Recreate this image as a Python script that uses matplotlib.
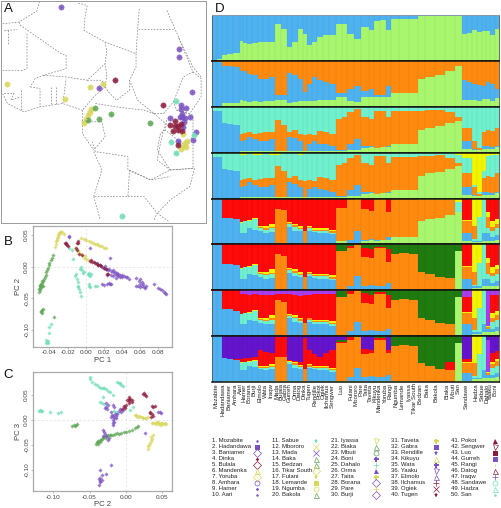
import numpy as np
import matplotlib
matplotlib.use("Agg")
import matplotlib.pyplot as plt

plt.rcParams['font.family'] = ['Liberation Sans', 'DejaVu Sans']
W, H = 501, 508
PURPLE, YELLOW, DRED, GREEN, AQUA = '#7B52C1', '#D8D75C', '#8C1C3C', '#5FA655', '#6FDDB8'
C_BLUE, C_LG, C_OR, C_AQ, C_RED, C_YE, C_DG, C_MA, C_PU = ('#4FB2F0', '#A8F56E', '#FF8A10', '#70F0CC',
    '#FF0A0A', '#F2F500', '#1F7A10', '#A83CEE', '#6414CC')

# ---------- map (panel A), image-style map units ----------
map_purple = [(185,21),(546,147),(546,169),(586,276),(301,263),(552,314),(553,325),(570,323),(518,355),(555,342),
              (550,352),(565,355),(582,352),(562,365),(560,380),(598,395),(589,420),(543,424),(556,350)]
map_yellow = [(18,250),(196,295),(272,261),(314,252),(278,325),(272,335),(267,345),(262,358),(256,370),(560,401),
              (572,423),(566,430),(562,438),(552,446),(568,442)]
map_dred = [(349,238),(497,315),(535,362),(552,373),(518,376),(535,378),(545,378),(529,392),(545,390),(555,392),(543,435)]
map_green = [(290,324),(338,341),(300,358),(267,360),(458,369)]
map_aqua = [(539,301),(594,405),(521,427),(538,458),(371,649)]
borders = [
 [(5,70),(55,65),(110,32),(118,5)],
 [(55,65),(60,75),(185,160),(200,165),(200,205),(130,225),(105,235),(90,260)],
 [(10,90),(50,88)],[(20,90),(20,130)],
 [(80,100),(80,205),(65,210),(5,210)],
 [(238,8),(265,15),(258,50),(255,90),(320,125),(415,160)],
 [(320,125),(325,150),(320,190),(265,240),(200,230),(130,225)],
 [(425,25),(420,85),(415,160)],[(420,85),(530,85)],
 [(415,160),(415,200),(395,240),(395,270),(355,300),(330,275),(320,260),(325,225),(320,190)],
 [(395,240),(420,300),(470,340),(500,340),(530,305),(560,230),(590,215),(545,110)],
 [(510,30),(550,120),(590,200),(615,230)],
 [(590,215),(615,235),(615,290),(580,340),(540,330),(530,305)],
 [(540,330),(590,345),(590,405),(570,440),(505,390),(510,355)],
 [(505,390),(490,400),(480,450),(520,510),(590,505),(590,430)],
 [(470,340),(505,370),(490,430),(480,480),(520,510),(460,540),(390,510),(390,470),(360,465),(290,455),(280,425)],
 [(285,455),(310,510),(285,590),(390,590),(395,510)],
 [(285,590),(305,660)],[(390,590),(440,590),(480,640),(470,660)],
 [(395,510),(460,540),(520,530)],
 [(520,510),(595,505),(580,560),(520,600),(480,640),(515,665)],
 [(190,310),(200,235)],[(265,240),(310,240),(320,260),(290,285),(250,330)],
 [(90,260),(120,265),(120,320)],[(155,260),(155,310)],[(170,260),(170,310)],[(60,270),(60,330)],
 [(10,280),(40,280),(30,300),(60,290)],
 [(5,280),(20,310),(70,335),(120,320),(190,310),(250,330)],
 [(250,330),(250,400),(285,450)],[(250,365),(310,365),(320,410),(285,450)],
 [(290,310),(355,320),(395,325),(440,330),(470,340)],
]

# ---------- PCA B (PC1, PC2) ----------
b_yellow = [(-0.034,0.031),(-0.033,0.04),(-0.033,0.035),(-0.032,0.042),(-0.032,0.045),(-0.031,0.05),(-0.031,0.047),(-0.030,0.053),
 (-0.029,0.051),(-0.028,0.055),(-0.027,0.054),(-0.026,0.054),(-0.024,0.052),(-0.005,0.045),(-0.002,0.043),(0,0.042),(0.004,0.04),
 (0.006,0.039),(0.008,0.038),(0.010,0.036),(0.012,0.036),(0.014,0.034),(0.016,0.033),(0.018,0.032),(0.02,0.03),(0.022,0.029),
 (-0.012,0.029),(-0.010,0.026),(-0.009,0.024),(-0.007,0.022),(-0.005,0.02),(-0.004,0.018),(-0.002,0.014),(-0.001,0.016),(0,0.012),(0.002,0.01)]
b_dred = [(-0.023,0.037),(-0.022,0.035),(-0.022,0.038),(-0.021,0.034),(-0.020,0.033),(-0.009,0.04),(-0.01,0.038),(-0.009,0.037),
 (-0.011,0.029),(-0.01,0.027),(0.005,0.009),(0.006,0.01),(0.007,0.008),(0.009,0.007),(0.01,0.006),(0.012,0.004),(0.014,0.003),
 (0.016,0.002),(0.017,0.001),(0.02,-0.002),(0.024,-0.011),(0.025,-0.012),(-0.004,0.018),(-0.007,0.02),(0.022,-0.003)]
b_purple = [(0.012,0.005),(0.014,0.003),(0.016,0.002),(0.018,0.0),(0.02,-0.002),(0.021,0.001),(0.022,-0.004),(0.024,-0.003),
 (0.025,-0.006),(0.026,-0.004),(0.028,-0.007),(0.03,-0.009),(0.03,-0.006),(0.032,-0.008),(0.032,-0.011),(0.034,-0.01),(0.034,-0.014),
 (0.036,-0.012),(0.036,-0.015),(0.038,-0.013),(0.038,-0.017),(0.04,-0.014),(0.04,-0.016),(0.042,-0.015),(0.044,-0.016),(0.046,-0.017),
 (0.024,-0.013),(0.028,-0.013),(0.03,-0.015),(0.033,-0.018),(0.056,-0.03),(0.058,-0.03),(0.06,-0.028),(0.06,-0.032),(0.062,-0.03),
 (0.063,-0.028),(0.064,-0.032),(0.066,-0.03),(0.06,-0.02),(0.059,-0.022),(0.062,-0.024),(0.055,-0.018),(0.065,-0.034),(0.075,-0.028),
 (0.08,-0.034),(0.082,-0.036),(0.084,-0.037),(0.086,-0.04),(0.088,-0.041),(0.089,-0.043),(0.018,-0.028),(0.02,-0.029),(0.024,-0.027),
 (0.026,-0.026),(0.027,-0.028),(0.028,-0.027),(-0.019,0.049),(-0.018,0.047),(0.005,0.03),(0.027,0.013),(0.048,-0.02)]
b_green = [(-0.036,0.018),(-0.037,0.014),(-0.038,0.01),(-0.04,0.006),(-0.041,0.002),(-0.042,-0.002),(-0.043,-0.005),(-0.044,-0.009),
 (-0.044,-0.013),(-0.045,-0.016),(-0.046,-0.02),(-0.047,-0.023),(-0.048,-0.026),(-0.048,-0.03),(-0.049,-0.027),(-0.049,-0.032),
 (-0.05,-0.029),(-0.05,-0.034),(-0.051,-0.031),(-0.051,-0.037),(-0.052,-0.035),(-0.052,-0.04),(-0.047,-0.03),(-0.048,-0.023),
 (-0.048,-0.069),(-0.049,-0.072),(-0.048,-0.073),(-0.047,-0.067),(-0.049,-0.07),(-0.035,-0.08)]
b_aqua = [(-0.042,-0.117),(-0.043,-0.119),(-0.044,-0.116),(-0.042,-0.12),(-0.044,-0.121),(-0.04,-0.105),(-0.04,-0.095),(-0.038,-0.09),
 (-0.005,0.0),(-0.004,-0.005),(-0.006,-0.004),(-0.003,-0.01),(-0.002,-0.008),(0.003,-0.012),(0.004,-0.014),(0.005,-0.015),(0.004,-0.01),
 (0.006,-0.011),(-0.011,-0.012),(-0.012,-0.015),(-0.010,-0.02),(-0.009,-0.025),(-0.008,-0.03),(-0.009,-0.033),(-0.007,-0.035),(-0.006,-0.04),
 (-0.005,-0.047),(0.004,-0.03),(0.005,-0.033),(0.004,-0.027),(0.01,-0.03),(0.012,-0.03),(-0.018,0.03),(-0.015,0.026),(-0.014,0.012)]

# ---------- PCA C (PC2, PC3) ----------
c_aqua = [(-0.12,0.018),(-0.118,0.019),(-0.117,0.017),(-0.115,0.018),(-0.105,0.015),(-0.093,0.013),(-0.09,0.015),(-0.05,0.085),(-0.05,0.082),
 (-0.046,0.075),(-0.042,0.072),(-0.04,0.07),(-0.037,0.066),(-0.034,0.064),(-0.032,0.063),(-0.03,0.064),(-0.028,0.061),(-0.025,0.058),
 (-0.022,0.055),(-0.018,0.05),(-0.012,0.075),(-0.01,0.073),(-0.008,0.073),(-0.006,0.07),(-0.004,0.068),(-0.036,0.035),(-0.033,0.033),
 (-0.03,0.032),(-0.032,0.045),(-0.016,0.018),(-0.014,0.016),(-0.012,0.014),(0.006,0.02),(0.01,0.025)]
c_green = [(-0.074,-0.012),(-0.072,-0.011),(-0.07,-0.012),(-0.069,-0.01),(-0.067,-0.008),(-0.041,-0.048),(-0.04,-0.045),(-0.039,-0.049),(-0.038,-0.045),
 (-0.038,-0.042),(-0.036,-0.044),(-0.036,-0.04),(-0.034,-0.041),(-0.033,-0.038),(-0.031,-0.037),(-0.03,-0.034),(-0.028,-0.036),(-0.026,-0.032),
 (-0.024,-0.03),(-0.022,-0.03),(-0.02,-0.03),(-0.018,-0.03),(-0.015,-0.028),(-0.012,-0.027),(-0.01,-0.028),(-0.006,-0.026),(-0.003,-0.025),
 (0,-0.025),(0.004,-0.022),(0.008,-0.02),(0.012,-0.017),(0.015,-0.015),(0.017,-0.013)]
c_purple = [(-0.02,0.005),(-0.018,0.0),(-0.019,0.01),(-0.017,0.007),(-0.016,0.003),(-0.015,0.012),(-0.016,-0.004),(-0.018,-0.006),(-0.014,0.008),
 (-0.013,0.004),(-0.017,-0.01),(-0.012,0.012),(-0.01,0.018),(-0.008,0.022),(-0.006,0.015),(-0.004,0.02),(-0.002,0.025),(-0.02,0.015),(-0.018,0.03),
 (-0.016,0.026),(-0.03,-0.024),(-0.029,-0.028),(-0.031,-0.032),(-0.028,-0.032),(-0.032,-0.02),(-0.025,-0.04),(-0.023,-0.037),(-0.037,-0.118),
 (-0.036,-0.122),(-0.035,-0.125),(-0.037,-0.13),(-0.035,-0.116),(-0.033,-0.12),(-0.036,-0.1),(-0.028,-0.108),(-0.033,-0.11),(-0.02,-0.09),
 (0.045,0.016),(0.047,0.015),(0.049,0.014),(-0.027,0.025),(-0.028,0.033),(-0.029,0.023),(-0.025,0.03),(-0.026,0.022),(0.027,-0.027)]
c_dred = [(0.002,0.04),(0.004,0.042),(0.005,0.038),(0.006,0.041),(0.008,0.04),(0.005,0.045),(0.009,0.036),(0.004,0.034),(0.025,0.053),(0.027,0.05),
 (0.028,0.048),(0.024,0.052),(0.036,0.028),(0.038,0.025),(0.04,0.027),(0.034,0.013),(0.036,0.011),(0.037,0.008),(0.033,0.016),(0.035,0.006),
 (-0.002,0.027),(-0.001,0.024),(0.0,0.03),(-0.005,0.022)]
c_yellow = [(0.036,-0.007),(0.038,-0.006),(0.04,-0.007),(0.042,-0.008),(0.044,-0.006),(0.045,-0.005),(0.046,-0.009),(0.048,-0.007),(0.05,-0.006),
 (0.052,-0.008),(0.054,-0.006),(0.055,-0.009),(0.043,-0.004),(0.049,-0.01),(0.03,-0.058),(0.03,-0.053),(0.032,-0.05),(0.033,-0.046),(0.035,-0.042),
 (0.036,-0.038),(0.037,-0.03),(0.035,-0.035),(0.012,0.009),(0.014,0.01),(0.016,0.006),(0.018,0.008),(0.02,0.006),(0.022,0.005),(0.024,0.004),
 (0.026,0.004),(0.028,0.003),(0.03,0.005)]

# ---------- structure bars (panel D): 48 population blocks, boundaries in % ----------
edges = [20,35,50,65,85,105,115,125,140,158,175,192,210,228,245,262,278,292,305,320,335,352,372,392,410,425,445,467,490,507,525,543,
         557,580,610,637,660,690,720,750,770,785,800,815,830,843,855,868,882]
p1_green = [0,5,13,16,18,44,40,38,40,42, 42,42,81,71,31,42,71,60,35,42, 53,57,57,82,82,60,49,75,68,88, 90,68,93,93,93,99,99,99,99,99, 60,62,68,64,66,66,57,71]

p2_green = [1,3,8,8,8,15,12,10,12,10, 12,12,15,15,8,10,12,12,12,12, 15,15,15,22,22,12,10,22,22,22, 22,22,30,30,30,60,65,70,78,90, 15,15,15,12,18,18,12,20]
p2_blue = [99,99,90,90,88,78,78,72,70,60, 62,65,25,25,75,70,60,32,50,65, 58,55,50,30,30,38,45,35,38,25, 25,45,30,30,30,60,65,70,78,90, 58,55,50,48,45,55,50,40]

p3_green = [0,0,1,1,1,3,3,3,3,3, 3,3,3,3,3,3,3,3,3,3, 3,3,3,3,3,5,5,10,12,10, 12,12,18,18,18,50,55,58,65,70, 8,8,5,5,8,8,8,12]
p3_blue = [90,90,65,62,60,25,28,35,30,25, 25,30,4,4,35,32,25,3,20,25, 20,18,15,5,5,18,30,15,15,10, 12,15,18,18,18,50,55,58,65,70, 25,25,8,6,15,15,12,14]
p3_orange = [90,90,65,62,60,40,42,45,40,42, 45,45,72,60,45,50,40,38,40,38, 48,45,40,74,78,88,96,78,74,92, 92,78,90,90,90,92,93,94,88,78, 55,55,25,10,45,50,48,55]
p4_aqua = [100,100,100,100,100,95,96,100,95,95, 100,95,95,100,100,100,96,100,100,100, 100,100,100,100,100,100,100,100,100,100, 100,100,100,100,100,100,100,100,100,95, 88,88,30,15,60,92,95,95]

p5_green = [0,0,1,1,1,2,2,2,2,2, 2,2,2,2,2,2,2,2,2,2, 2,2,2,8,8,3,3,8,10,8, 10,10,15,15,15,50,55,58,65,70, 8,8,5,5,8,8,8,10]
p5_blue = [99,99,58,58,55,25,25,35,32,28, 25,27,2,2,38,30,28,2,30,27, 25,25,22,8,8,10,30,10,12,10, 10,15,15,15,15,50,55,58,65,70, 25,25,8,8,25,25,15,20]
p5_aqua = [99,99,58,58,55,47,50,50,55,35, 32,35,2,2,44,38,33,2,35,30, 30,30,25,8,8,10,30,10,12,10, 10,15,15,15,15,50,55,58,65,92, 25,25,12,60,100,35,30,35]
p5_orange = [99,99,58,58,55,47,50,50,55,37, 35,38,78,75,46,42,36,28,38,32, 32,32,28,80,80,98,96,78,72,98, 98,70,98,98,98,97,97,97,97,92, 50,50,40,60,100,60,38,45]
p5_yellow = [99,99,58,58,55,48,50,52,57,40, 40,45,78,75,48,45,40,28,40,35, 35,35,32,80,80,98,98,78,72,98, 98,70,98,98,98,100,100,100,100,100, 52,52,100,100,100,70,50,55]

p6_green = [0,0,1,1,1,2,2,2,2,2, 2,2,2,2,2,2,2,2,2,2, 2,2,2,2,2,1,1,2,2,2, 2,2,2,2,2,0,0,0,0,85, 2,2,5,5,8,8,8,10]
p6_blue = [99,99,58,58,55,25,25,35,32,28, 25,27,2,2,38,30,28,2,30,27, 25,25,22,2,2,10,30,10,12,10, 10,15,2,2,2,0,0,0,0,85, 25,25,8,8,25,25,15,20]
p6_aqua = [99,99,58,58,55,47,50,50,55,35, 32,35,2,2,44,38,33,2,35,30, 30,30,25,2,2,10,30,10,12,10, 10,15,2,2,2,0,0,0,0,85, 25,25,12,60,100,35,30,35]
p6_orange = [99,99,58,58,55,47,50,50,55,37, 35,38,78,75,46,42,36,28,38,32, 32,32,28,85,85,92,98,72,70,92, 92,62,78,80,78,40,35,28,27,85, 50,50,40,60,100,60,38,45]
p6_yellow = [99,99,58,58,55,48,50,52,57,40, 40,45,78,75,48,45,40,28,40,35, 35,35,32,85,85,92,98,72,70,92, 92,62,78,80,78,40,35,28,27,85, 52,52,100,100,100,70,50,55]
p6_red = [100,100,100,100,100,100,100,100,100,100, 100,100,100,100,100,100,100,100,100,100, 100,100,100,85,85,97,100,93,90,95, 95,90,78,80,78,40,35,28,27,85, 100,100,100,100,100,100,100,100]

p7_red = [100,100,100,100,100,92,92,90,92,90, 90,90,92,92,92,90,88,90,90,92, 92,92,92,85,85,97,100,93,90,95, 95,90,78,80,78,40,35,28,27,85, 85,85,100,100,100,22,90,90]
p7_dgreen = [100,100,100,100,100,92,92,90,92,90, 90,90,92,92,92,90,88,90,90,92, 92,92,92,97,97,100,100,100,100,100, 100,100,100,100,100,100,100,100,100,100, 85,85,100,100,100,22,90,90]
p7_orange = [99,99,58,58,55,47,50,50,55,37, 35,38,78,75,46,42,36,28,38,32, 32,32,28,85,85,92,98,72,70,92, 92,62,78,80,78,40,35,28,27,85, 50,50,40,60,100,20,38,45]
p7_yellow = [99,99,58,58,55,48,50,52,57,40, 40,45,78,75,48,45,40,28,40,35, 35,35,32,85,85,92,98,72,70,92, 92,62,78,80,78,40,35,28,27,85, 52,52,100,100,100,22,50,55]
p7_aqua = [99,99,58,58,55,47,50,50,55,35, 32,35,2,2,44,38,33,2,35,30, 30,30,25,2,2,10,30,10,12,10, 10,15,2,2,2,0,0,0,0,85, 25,25,12,60,100,15,30,35]
p7_blue = [99,99,58,58,55,25,25,35,32,28, 25,27,2,2,38,30,28,2,30,27, 25,25,22,2,2,10,30,10,12,10, 10,15,2,2,2,0,0,0,0,85, 25,25,8,8,25,15,15,20]

p8_blue = [99,99,52,50,48,25,25,35,32,28, 25,27,2,2,38,30,28,2,30,27, 25,25,22,2,2,10,30,10,12,10, 10,15,2,2,2,0,0,0,0,85, 20,20,8,8,25,15,15,20]
p8_aqua = [99,99,52,50,48,40,42,42,45,30, 30,32,2,2,42,36,32,2,33,30, 30,30,25,2,2,10,30,10,12,10, 10,15,2,2,2,0,0,0,0,85, 20,20,12,60,100,15,30,35]
p8_orange = [99,99,52,50,48,40,42,42,45,32, 32,35,55,55,44,40,35,28,36,32, 32,32,28,85,85,92,98,60,62,92, 92,62,78,80,78,40,35,28,25,85, 40,40,40,60,100,20,38,45]
p8_yellow = [99,99,52,50,48,42,44,45,48,34, 35,38,55,55,46,42,37,28,38,34, 34,34,30,85,85,92,98,60,62,92, 92,62,78,80,78,40,35,28,25,85, 42,42,100,100,100,22,42,50]
p8_red = [99,99,52,50,50,50,52,52,55,70, 65,62,97,97,48,45,42,95,70,60, 55,62,70,86,86,97,98,72,70,95, 95,70,78,80,78,40,35,28,42,85, 50,50,100,100,100,22,62,68]
p8_dgreen = [99,99,52,50,50,50,52,52,55,70, 65,62,97,97,48,45,42,95,70,60, 55,62,70,92,92,100,100,72,70,100, 100,70,100,100,100,100,100,100,100,100, 50,50,100,100,100,22,62,68]
p8_magenta = [99,99,52,50,50,50,52,52,55,70, 65,62,97,97,48,45,42,95,70,60, 55,62,70,92,92,100,100,72,70,100, 100,70,100,100,100,100,100,100,100,100, 50,50,100,100,100,90,62,68]

full = [100] * 48
panels = [
 [(p1_green, C_LG), (full, C_BLUE)],
 [(p2_green, C_LG), (p2_blue, C_BLUE), (full, C_OR)],
 [(p3_green, C_LG), (p3_blue, C_BLUE), (p3_orange, C_OR), (full, C_AQ)],
 [(p3_green, C_LG), (p3_blue, C_BLUE), (p3_orange, C_OR), (p4_aqua, C_AQ), (full, C_YE)],
 [(p5_green, C_LG), (p5_blue, C_BLUE), (p5_aqua, C_AQ), (p5_orange, C_OR), (p5_yellow, C_YE), (full, C_RED)],
 [(p6_green, C_LG), (p6_blue, C_BLUE), (p6_aqua, C_AQ), (p6_orange, C_OR), (p6_yellow, C_YE), (p6_red, C_RED), (full, C_DG)],
 [(p6_green, C_LG), (p7_blue, C_BLUE), (p7_aqua, C_AQ), (p7_orange, C_OR), (p7_yellow, C_YE), (p7_red, C_RED), (p7_dgreen, C_DG), (full, C_MA)],
 [(p6_green, C_LG), (p8_blue, C_BLUE), (p8_aqua, C_AQ), (p8_orange, C_OR), (p8_yellow, C_YE), (p8_red, C_RED), (p8_dgreen, C_DG), (p8_magenta, C_MA), (full, C_PU)],
]
bar_names = ['Mozabite','Hadandawa','Baniamer','Amhara','Aari','Hamer','Borana','Burji','Elmolo','Wata','Iraqw','Mada','Bulala','Gabra',
 'Gurreh','Orma','Datog','Dinka','Tugen','Rendille','Pokot','Ogiek','Ilchamus','Sengwer','Luo','Fulani','Mbororo','Pare','Taita','Taveta',
 'Kikuyu','Mandenka','Yoruba','Rangi','Ngumba','Lemande','Iyassa','Tikar South','Bedzan','Baka','Bakola','Biaka','Mbuti','San','Sandawe',
 'Hadza','Sabue','Dahalo','Yaaku','Boni']
bar_name_px = [216,222.7,229,235.7,240,244,249,254,260,265,270.7,276.7,280.7,285,289,295,299,304,309,315,319,323,327,332,341,350.7,356.5,
 361.5,366,370.5,375,379.5,385,389.8,395.7,401.7,409,415,420,427,436,446.7,453,458,466,476,482,486.7,490.7,495]

legend_names = ['Mozabite','Hadandawa','Baniamer','Dinka','Bulala','Mandenka','Yoruba','Amhara','Hamer','Aari',
 'Sabue','Mbororo','Mada','Baka','Bedzan','Tikar South','Fulani','Lemande','Ngumba','Bakola',
 'Iyassa','Biaka','Mbuti','Boni','Dahalo','Orma','Taita','Borana','Pare','Burji',
 'Taveta','Gabra','Rendille','Kikuyu','Wata','Yaaku','Elmolo','Ilchamus','Ogiek','Tugen',
 'Pokot','Sengwer','Luo','Gurreh','Rangi','Datog','Iraqw','Sandawe','Hadza','San']
legend_markers = ['o','s','D','D','D','^','D','o','D','o', '*','x','x','^','^','D','*','s','o','^',
 'v','^','o','P','+','^','P','D','+','D', 'P','s','*','^','P','v','^','+','x','*',
 '^','v','s','s','*','^','+','o','^','o']
legend_colors = [PURPLE,PURPLE,PURPLE,DRED,DRED,YELLOW,YELLOW,PURPLE,PURPLE,PURPLE,
 AQUA,YELLOW,PURPLE,GREEN,GREEN,YELLOW,YELLOW,YELLOW,YELLOW,GREEN,
 YELLOW,GREEN,GREEN,PURPLE,AQUA,PURPLE,YELLOW,PURPLE,YELLOW,PURPLE,
 YELLOW,PURPLE,PURPLE,YELLOW,PURPLE,PURPLE,PURPLE,DRED,DRED,DRED,
 DRED,DRED,DRED,PURPLE,YELLOW,DRED,PURPLE,AQUA,AQUA,AQUA]
legend_open = [0,0,1,0,1,1,1,1,0,0, 0,0,0,1,1,1,0,0,1,1, 1,1,1,0,0,0,0,1,0,1, 0,0,0,1,0,1,1,0,0,0, 0,1,0,0,0,1,0,1,1,0]
legend_small = [1,0,0,1,0,0,0,0,1,1, 0,0,0,0,0,0,0,0,0,0, 0,0,0,0,0,0,0,0,0,0, 0,0,0,0,0,0,0,0,0,0, 0,0,0,0,1,0,0,0,0,1]

fig = plt.figure(figsize=(W / 100, H / 100), dpi=100, facecolor='white')

def ax_px(l, t, r, b, **kw):
    return fig.add_axes([l / W, 1 - b / H, (r - l) / W, (b - t) / H], **kw)

# A: map
a = ax_px(1, 0.5, 206, 222.5)
a.set_xlim(0, 630); a.set_ylim(668, 0)
a.set_xticks([]); a.set_yticks([])
for s in a.spines.values():
    s.set_color('#9a9a9a'); s.set_linewidth(0.7)
for line in borders:
    xy = np.array(line)
    a.plot(xy[:, 0], xy[:, 1], color='#808080', lw=0.5, ls=(0, (2.4, 2.0)))
for pts, col in [(map_purple, PURPLE), (map_yellow, YELLOW), (map_green, GREEN), (map_aqua, AQUA), (map_dred, DRED)]:
    xy = np.array(pts)
    a.scatter(xy[:, 0], xy[:, 1], s=15, color=col, alpha=0.85, linewidths=0.3, edgecolors=col, zorder=3)
    a.scatter(xy[:, 0], xy[:, 1], s=1.5, color=col, alpha=1, linewidths=0, zorder=4)

def style_pca(ax, xl, yl, xlim, ylim, xt, yt):
    ax.set_xlim(*xlim); ax.set_ylim(*ylim)
    ax.set_xticks(xt); ax.set_yticks(yt)
    ax.set_xticklabels(['%.2f' % v for v in xt], fontsize=4.6, color='#444444')
    ax.set_yticklabels(['%.2f' % v for v in yt], fontsize=4.6, color='#444444', rotation=90, va='center')
    ax.tick_params(length=1.5, width=0.4, color='#888888', pad=1.2)
    ax.set_xlabel(xl, fontsize=5.6, color='#444444', labelpad=1)
    ax.set_ylabel(yl, fontsize=5.6, color='#444444', labelpad=1.5)
    ax.axhline(0, color='#dddddd', lw=0.5, ls=(0, (3, 3)), zorder=0)
    ax.axvline(0, color='#dddddd', lw=0.5, ls=(0, (3, 3)), zorder=0)
    for s in ax.spines.values():
        s.set_color('#aaaaaa'); s.set_linewidth(0.9)

def pca_points(ax, groups):
    for pts, col in groups:
        xy = np.array(pts)
        ax.scatter(xy[:, 0], xy[:, 1], s=4.5, marker='D', color=col, alpha=0.75, linewidths=0)

# B
b = ax_px(33, 226, 171.5, 346.5)
style_pca(b, 'PC 1', 'PC 2', (-0.0582, 0.0947), (-0.1263, 0.0642),
          [-0.04, -0.02, 0.00, 0.02, 0.04, 0.06, 0.08], [-0.10, -0.05, 0.00, 0.05])
pca_points(b, [(b_green, GREEN), (b_aqua, AQUA), (b_yellow, YELLOW), (b_purple, PURPLE), (b_dred, DRED)])

# C
c = ax_px(33, 372, 171.5, 491)
style_pca(c, 'PC 2', 'PC 3', (-0.128, 0.063), (-0.142, 0.0953),
          [-0.10, -0.05, 0.00, 0.05], [-0.10, -0.05, 0.00, 0.05])
pca_points(c, [(c_green, GREEN), (c_aqua, AQUA), (c_yellow, YELLOW), (c_purple, PURPLE), (c_dred, DRED)])

# D: structure bars
edges_arr = np.array(edges, float)
top0, step = 15.3, 45.8
for i, layers in enumerate(panels):
    ax = ax_px(211.7, top0 + i * step, 499.5, top0 + (i + 1) * step)
    ax.set_xlim(edges_arr[0], edges_arr[-1]); ax.set_ylim(0, 100)
    ax.set_xticks([]); ax.set_yticks([])
    prev = np.zeros(48)
    for vals, col in layers:
        cur = np.maximum(prev, np.array(vals, float))
        ax.bar(edges_arr[:-1], cur - prev, width=np.diff(edges_arr), bottom=prev, align='edge', color=col, linewidth=0)
        prev = cur
    ax.vlines(edges_arr[1:-1], 0, 100, color='#000000', lw=0.25, alpha=0.15)
    for name, s in ax.spines.items():
        s.set_color('#111111' if name in ('top', 'bottom') else '#555555')
        s.set_linewidth(1.1 if name in ('top', 'bottom') else 0.6)
    if i == 0:
        ax.spines['top'].set_color('#8899aa'); ax.spines['top'].set_linewidth(0.7)

# overlay: text, legend
o = ax_px(0, 0, W, H)
o.set_xlim(0, W); o.set_ylim(H, 0); o.axis('off'); o.patch.set_alpha(0)
for t, x, y in [('A', 8.5, 9), ('B', 8.5, 242), ('C', 8.5, 375), ('D', 220, 8.5)]:
    o.text(x, y, t, fontsize=9.5, ha='center', va='center', color='#111111')
for name, x in zip(bar_names, bar_name_px):
    o.text(x, 383.5, name, rotation=90, fontsize=4.4, ha='center', va='top', color='#222222')

col_text = [212, 272, 331.5, 391, 450.7]
col_mark = [256.7, 316, 376, 435.6, 495]
for i, name in enumerate(legend_names):
    col, row = i // 10, i % 10
    y = 440.7 + row * 6
    o.text(col_text[col], y, f'{i + 1}. {name}', fontsize=4.35, ha='left', va='center', color='#222222')
    m, cl = legend_markers[i], legend_colors[i]
    ms = 1.8 if legend_small[i] else 3.6
    if m in ('x', '+'):
        o.plot(col_mark[col], y, m, color=cl, ms=4, mew=0.5)
    elif legend_open[i]:
        o.plot(col_mark[col], y, m, mfc='none', mec=cl, ms=ms, mew=0.5)
    else:
        o.plot(col_mark[col], y, m, color=cl, ms=ms, mew=0)

fig.savefig('out.png', dpi=100)
